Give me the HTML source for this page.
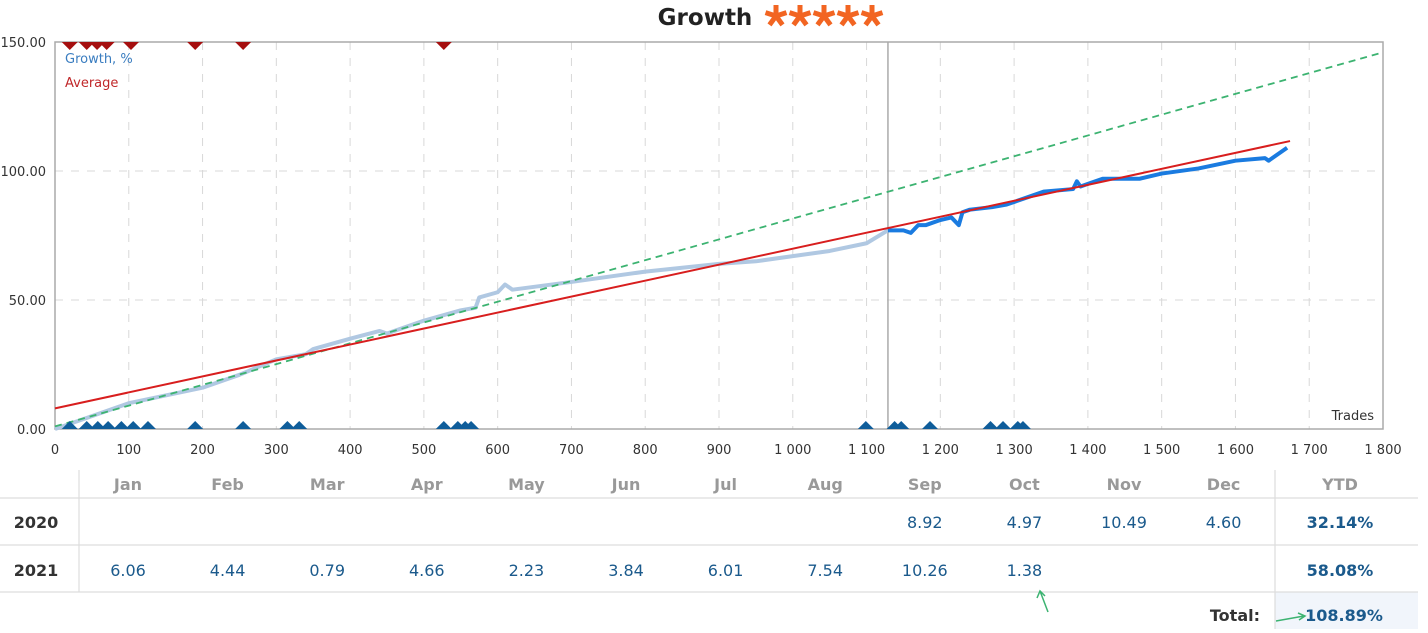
<!DOCTYPE html>
<html><head><meta charset="utf-8"><style>
body{margin:0;background:#fff;width:1428px;height:629px;overflow:hidden;font-family:"DejaVu Sans","Liberation Sans",sans-serif;}
svg text{font-family:"DejaVu Sans","Liberation Sans",sans-serif;}
</style></head><body>
<svg id="chart" width="1428" height="629" xmlns="http://www.w3.org/2000/svg">
<text x="705" y="25" text-anchor="middle" font-size="23" font-weight="bold" fill="#222">Growth</text>
<g id="stars"></g>
<g id="grid"></g>
<rect x="55" y="42" width="1328" height="387" fill="none" stroke="#aaa" stroke-width="1.5"/>
<g id="marks"></g>
<text x="65" y="63" font-size="13" fill="#3a7dc0">Growth, %</text>
<text x="65" y="87" font-size="13" fill="#c0282a">Average</text>
<text x="1374" y="420" font-size="13" text-anchor="end" fill="#333">Trades</text>
<g id="table"></g>
</svg>
<script>
const xTicks=[0,100,200,300,400,500,600,700,800,900,1000,1100,1200,1300,1400,1500,1600,1700,1800];
const yTicks=[0,50,100,150];
const growthTrades=[0,50,100,150,200,250,300,340,350,400,440,450,500,550,570,575,600,610,620,700,800,900,950,1000,1050,1100,1129];
const growthValues=[0,5,10,13,16,21,27,29,31,35,38,37,42,46,47,51,53,56,54,57,61,64,65,67,69,72,77];
const growth2Trades=[1129,1150,1160,1170,1180,1200,1215,1225,1230,1240,1270,1290,1300,1320,1340,1380,1385,1390,1400,1420,1450,1470,1500,1550,1600,1640,1645,1670];
const growth2Values=[77,77,76,79,79,81,82,79,84,85,86,87,88,90,92,93,96,94,95,97,97,97,99,101,104,105,104,109];
const avgStart=8, avgEnd=111.6, avgEndTrade=1674;
const trendStart=1, trendEnd=146, trendEndTrade=1800;
const splitTrade=1129;
const redMarkers=[20,43,57,70,103,190,255,527];
const blueMarkers=[20,43,58,72,90,106,126,190,255,315,331,527,546,556,564,1099,1138,1147,1186,1268,1285,1305,1312];
const months=["Jan","Feb","Mar","Apr","May","Jun","Jul","Aug","Sep","Oct","Nov","Dec"];
const years=["2020","2021"];
const vals2020=["","","","","","","","","8.92","4.97","10.49","4.60"];
const vals2021=["6.06","4.44","0.79","4.66","2.23","3.84","6.01","7.54","10.26","1.38","",""];
const ytd=["32.14%","58.08%"];
const total="108.89%";

const NS="http://www.w3.org/2000/svg";
const X0=55,X1=1383,Y0=429,Y1=42;
const xs=t=>X0+t*(X1-X0)/1800;
const ys=v=>Y0-v*(Y0-Y1)/150;
function mk(tag,attrs,parent){const e=document.createElementNS(NS,tag);for(const k in attrs)e.setAttribute(k,attrs[k]);parent.appendChild(e);return e;}
const grid=document.getElementById('grid'),marks=document.getElementById('marks'),tbl=document.getElementById('table'),stars=document.getElementById('stars');
for(let s=0;s<5;s++){const cx=776+s*24,cy=16;let d='';
  for(let k=0;k<5;k++){const a=-Math.PI/2+k*2*Math.PI/5;d+=`M${cx},${cy} L${(cx+11*Math.cos(a)).toFixed(1)},${(cy+11*Math.sin(a)).toFixed(1)} `;}
  const p=mk('path',{d:d,stroke:'#f26522','stroke-width':5,'stroke-linecap':'butt',fill:'none'},stars);
  
  }
xTicks.forEach(t=>{
  if(t>0&&t<1800){const l=mk('line',{x1:xs(t),x2:xs(t),y1:Y1,y2:Y0,stroke:'#d8d8d8','stroke-dasharray':'8,8'},grid);
  
  }
  const tx=mk('text',{x:xs(t),y:454,'text-anchor':'middle','font-size':13,fill:'#333'},grid);tx.textContent=t>=1000?(Math.floor(t/1000)+' '+String(t%1000).padStart(3,'0')):String(t);
  
  
});
yTicks.forEach(v=>{
  if(v>0&&v<150){const l=mk('line',{x1:X0,x2:X1,y1:ys(v),y2:ys(v),stroke:'#d8d8d8','stroke-dasharray':'8,8'},grid);
  
  }
  const tx=mk('text',{x:46,y:ys(v)+5,'text-anchor':'end','font-size':13,fill:'#333'},grid);tx.textContent=v.toFixed(2);
  
  
});
let sp=mk('line',{x1:xs(splitTrade),x2:xs(splitTrade),y1:Y1,y2:Y0,stroke:'#aaa','stroke-width':1.5},marks);


let p1=mk('polyline',{points:growthTrades.map((t,i)=>xs(t)+','+ys(growthValues[i])).join(' '),fill:'none',stroke:'#b0c8e2','stroke-width':4,'stroke-linejoin':'round'},marks);


let p2=mk('polyline',{points:growth2Trades.map((t,i)=>xs(t)+','+ys(growth2Values[i])).join(' '),fill:'none',stroke:'#1a7be0','stroke-width':4,'stroke-linejoin':'round'},marks);


let tr=mk('line',{x1:xs(0),y1:ys(trendStart),x2:xs(trendEndTrade),y2:ys(trendEnd),stroke:'#3cb371','stroke-width':1.8,'stroke-dasharray':'7,5'},marks);


let av=mk('line',{x1:xs(0),y1:ys(avgStart),x2:xs(avgEndTrade),y2:ys(avgEnd),stroke:'#d81e1e','stroke-width':2},marks);


redMarkers.forEach(t=>{const x=xs(t);const m=mk('polygon',{points:`${x-8},${Y1} ${x+8},${Y1} ${x},${Y1+8}`,fill:'#a50f0f'},marks);
  
  });
blueMarkers.forEach(t=>{const x=xs(t);const m=mk('polygon',{points:`${x-8},${Y0} ${x+8},${Y0} ${x},${Y0-8}`,fill:'#0f5d9a'},marks);
  
  });
const colX=m=>128+m*99.6;
mk('rect',{x:1275,y:592,width:143,height:37,fill:'#f1f5fb'},tbl);
[[0,498,1418,498],[0,545,1418,545],[0,592,1418,592]].forEach(a=>{const l=mk('line',{x1:a[0],y1:a[1],x2:a[2],y2:a[3],stroke:'#ddd','stroke-width':1.2},tbl);
  
  });
[[79,470,79,592],[1275,470,1275,629]].forEach(a=>{const l=mk('line',{x1:a[0],y1:a[1],x2:a[2],y2:a[3],stroke:'#ddd','stroke-width':1.2},tbl);
  
  });
function txt(s,x,y,o){const t=mk('text',Object.assign({x:x,y:y,'text-anchor':'middle','font-size':16},o),tbl);t.textContent=s;return t;}
months.forEach((m,i)=>{const t=txt(m,colX(i),490,{fill:'#999','font-weight':'bold'});
  
  });
let yh=txt('YTD',1340,490,{fill:'#999','font-weight':'bold'});


[vals2020,vals2021].forEach((row,r)=>{const y=r?576:528;
  const yl=txt(years[r],36,y,{fill:'#333','font-weight':'bold'});
  
  
  row.forEach((v,i)=>{if(v){const t=txt(v,colX(i),y,{fill:'#1b5a8c'});
    
    }});
  const yt=txt(ytd[r],1340,y,{fill:'#1b5a8c','font-weight':'bold'});
  
  
});
let tl=txt('Total:',1260,621,{fill:'#333','font-weight':'bold','text-anchor':'end'});


let tv=txt(total,1344,621,{fill:'#1b5a8c','font-weight':'bold'});


let a1=mk('path',{d:'M1276,621 L1304,616 M1298,613 L1305,616 L1299,620',stroke:'#3cb371','stroke-width':1.5,fill:'none'},tbl);


let a2=mk('path',{d:'M1048,612 L1040,591 M1037,598 L1040,591 L1045,596',stroke:'#3cb371','stroke-width':1.5,fill:'none'},tbl);


</script>
</body></html>
